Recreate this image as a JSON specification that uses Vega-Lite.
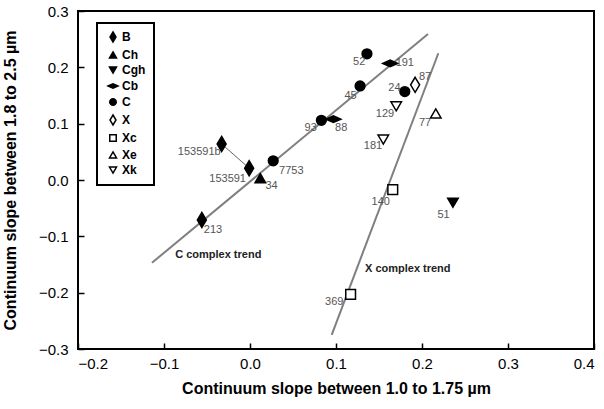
{
  "$schema": "https://vega.github.io/schema/vega-lite/v6.json",
  "width": 516,
  "height": 338,
  "autosize": {"type": "none"},
  "padding": {"left": 78, "top": 11, "right": 10, "bottom": 60},
  "background": "white",
  "config": {
    "view": {"stroke": "black", "strokeWidth": 2},
    "font": "Liberation Sans",
    "axis": {
      "grid": false,
      "domain": false,
      "tickColor": "black",
      "tickWidth": 1.5,
      "tickSize": 6,
      "offset": -6,
      "labelFont": "Liberation Sans",
      "labelFontSize": 15,
      "labelColor": "black",
      "titleFont": "Liberation Sans",
      "titleFontSize": 16,
      "titleFontWeight": "bold",
      "titleColor": "black"
    },
    "legend": {
      "orient": "none",
      "legendX": 19,
      "legendY": 12,
      "strokeColor": "black",
      "strokeWidth": 2,
      "fillColor": "white",
      "padding": 8,
      "labelFont": "Liberation Sans",
      "labelFontWeight": "bold",
      "labelFontSize": 12,
      "labelColor": "black",
      "labelOffset": 3,
      "symbolOffset": 2,
      "symbolSize": 100,
      "symbolStrokeWidth": 1.5,
      "rowPadding": 3
    }
  },
  "datasets": {
    "points": [
      {"type": "B", "label": "213", "x": -0.056, "y": -0.071},
      {"type": "B", "label": "153591b", "x": -0.033, "y": 0.064},
      {"type": "B", "label": "153591", "x": -0.001, "y": 0.021},
      {"type": "Ch", "label": "34", "x": 0.012, "y": 0.003},
      {"type": "Cgh", "label": "51", "x": 0.236, "y": -0.040},
      {"type": "Cb", "label": "191", "x": 0.163, "y": 0.207},
      {"type": "Cb", "label": "88", "x": 0.097, "y": 0.108},
      {"type": "C", "label": "52", "x": 0.136, "y": 0.224},
      {"type": "C", "label": "45", "x": 0.128, "y": 0.167},
      {"type": "C", "label": "24", "x": 0.180, "y": 0.157},
      {"type": "C", "label": "93", "x": 0.083, "y": 0.106},
      {"type": "C", "label": "7753", "x": 0.027, "y": 0.034},
      {"type": "X", "label": "87", "x": 0.192, "y": 0.169},
      {"type": "Xc", "label": "140", "x": 0.166, "y": -0.017},
      {"type": "Xc", "label": "369", "x": 0.117, "y": -0.203},
      {"type": "Xe", "label": "77", "x": 0.216, "y": 0.118},
      {"type": "Xk", "label": "129", "x": 0.170, "y": 0.131},
      {"type": "Xk", "label": "181", "x": 0.155, "y": 0.072}
    ],
    "labels": [
      {"text": "213", "x": -0.043, "y": -0.088},
      {"text": "153591b", "x": -0.059, "y": 0.050},
      {"text": "153591", "x": -0.026, "y": 0.001},
      {"text": "34", "x": 0.025, "y": -0.010},
      {"text": "7753", "x": 0.048, "y": 0.016},
      {"text": "52", "x": 0.127, "y": 0.210},
      {"text": "191", "x": 0.180, "y": 0.207},
      {"text": "45", "x": 0.117, "y": 0.149},
      {"text": "24", "x": 0.168, "y": 0.163},
      {"text": "87", "x": 0.2035, "y": 0.183},
      {"text": "129", "x": 0.157, "y": 0.118},
      {"text": "77", "x": 0.2035, "y": 0.102},
      {"text": "93", "x": 0.0706, "y": 0.092},
      {"text": "88", "x": 0.106, "y": 0.092},
      {"text": "181", "x": 0.143, "y": 0.060},
      {"text": "140", "x": 0.152, "y": -0.039},
      {"text": "51", "x": 0.225, "y": -0.062},
      {"text": "369", "x": 0.098, "y": -0.216}
    ],
    "trends": [
      {"line": "C", "x": -0.114, "y": -0.147},
      {"line": "C", "x": 0.207, "y": 0.259},
      {"line": "X", "x": 0.095, "y": -0.275},
      {"line": "X", "x": 0.219, "y": 0.225}
    ],
    "link": [
      {"x": -0.033, "y": 0.064},
      {"x": -0.001, "y": 0.021}
    ],
    "notes": [
      {"text": "C complex trend", "x": -0.087, "y": -0.133},
      {"text": "X complex trend", "x": 0.1337, "y": -0.158}
    ]
  },
  "encoding": {
    "x": {
      "field": "x",
      "type": "quantitative",
      "scale": {"domain": [-0.2, 0.4], "nice": false, "zero": false},
      "axis": {
        "title": "Continuum slope between 1.0 to 1.75 µm",
        "values": [-0.2, -0.1, 0, 0.1, 0.2, 0.3, 0.4],
        "format": ".1f",
        "labelPadding": 7,
        "titlePadding": 9
      }
    },
    "y": {
      "field": "y",
      "type": "quantitative",
      "scale": {"domain": [-0.3, 0.3], "nice": false, "zero": false},
      "axis": {
        "title": "Continuum slope between 1.8 to 2.5 µm",
        "values": [-0.3, -0.2, -0.1, 0, 0.1, 0.2, 0.3],
        "format": ".1f",
        "labelPadding": 10,
        "titlePadding": 20
      }
    }
  },
  "layer": [
    {
      "data": {"name": "trends"},
      "mark": {"type": "line", "color": "#7f7f7f", "strokeWidth": 2},
      "encoding": {"detail": {"field": "line"}}
    },
    {
      "data": {"name": "link"},
      "mark": {"type": "line", "color": "#666666", "strokeWidth": 1},
      "encoding": {}
    },
    {
      "data": {"name": "points"},
      "mark": {"type": "point", "strokeWidth": 1.5, "opacity": 1, "size": 225},
      "encoding": {
        "shape": {
          "field": "type",
          "type": "nominal",
          "scale": {
            "domain": ["B", "Ch", "Cgh", "Cb", "C", "X", "Xc", "Xe", "Xk"],
            "range": [
              "M0,-1L0.6,0L0,1L-0.6,0Z",
              "M0,-0.62L0.7,0.58L-0.7,0.58Z",
              "M0,0.62L0.7,-0.58L-0.7,-0.58Z",
              "M-1,0L0,-0.45L1,0L0,0.45Z",
              "M-0.65,0A0.65,0.65,0,1,0,0.65,0A0.65,0.65,0,1,0,-0.65,0Z",
              "M0,-1L0.6,0L0,1L-0.6,0Z",
              "M-0.65,-0.65L0.65,-0.65L0.65,0.65L-0.65,0.65Z",
              "M0,-0.62L0.7,0.58L-0.7,0.58Z",
              "M0,0.62L0.7,-0.58L-0.7,-0.58Z"
            ]
          },
          "legend": {"title": null}
        },
        "fill": {
          "field": "type",
          "type": "nominal",
          "scale": {
            "domain": ["B", "Ch", "Cgh", "Cb", "C", "X", "Xc", "Xe", "Xk"],
            "range": ["black", "black", "black", "black", "black", "white", "white", "white", "white"]
          },
          "legend": {"title": null}
        },
        "stroke": {
          "field": "type",
          "type": "nominal",
          "scale": {
            "domain": ["B", "Ch", "Cgh", "Cb", "C", "X", "Xc", "Xe", "Xk"],
            "range": ["black", "black", "black", "black", "black", "black", "black", "black", "black"]
          },
          "legend": {"title": null}
        }
      }
    },
    {
      "data": {"name": "labels"},
      "mark": {"type": "text", "font": "Liberation Sans", "fontSize": 11, "color": "#555555", "align": "center", "baseline": "middle"},
      "encoding": {"text": {"field": "text"}}
    },
    {
      "data": {"name": "notes"},
      "mark": {"type": "text", "font": "Liberation Sans", "fontSize": 11, "fontWeight": "bold", "color": "#222222", "align": "left", "baseline": "middle"},
      "encoding": {"text": {"field": "text"}}
    }
  ]
}
